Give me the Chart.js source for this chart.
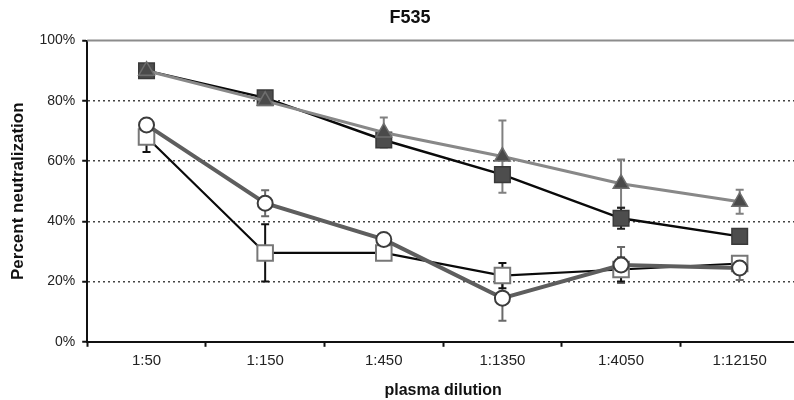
<!DOCTYPE html>
<html>
<head>
<meta charset="utf-8">
<script src="https://cdn.jsdelivr.net/npm/chart.js@4.4.1/dist/chart.umd.min.js"></script>
<style>
    html, body { margin: 0; padding: 0; background: #fff; overflow: hidden; }
    #wrap { width: 812px; height: 400px; }
</style>
</head>
<body>
<div id="wrap"><canvas id="chart"></canvas></div>
<script>
// Dilutions on the x axis
const dilutions = ['1:50', '1:150', '1:450', '1:1350', '1:4050', '1:12150'];

// Percent neutralization
const filledSquare = [90, 81, 67, 55.5, 41, 35];
const filledSquareErr = [0, 1, 1, 1, 3.5, 0.5];

const filledTriangle = [90, 80, 69.5, 61.5, 52.5, 46.5];
const filledTriangleErr = [0, 1, 5, 12, 8, 4];

const openSquare = [68, 29.5, 29.5, 22, 24, 26];
const openSquareErr = [5, 9.5, 1, 4.2, 4, 2];

const openCircle = [72, 46, 34, 14.5, 25.5, 24.5];
const openCircleErr = [1, 4.3, 1, 7.5, 6, 4];

// Y axis ticks
const yTicks = [0, 20, 40, 60, 80, 100];

const FONT = 'Liberation Sans, Arial, sans-serif';

// Draw error bars through the y scale
const errorBars = {
    id: 'errorBars',
    beforeDatasetsDraw(chart) {
        const ctx = chart.ctx;
        const yScale = chart.scales.y;
        chart.data.datasets.forEach((ds, i) => {
            if (!ds.errors) return;
            const meta = chart.getDatasetMeta(i);
            ctx.save();
            ctx.strokeStyle = ds.errorColor;
            ctx.lineWidth = 2;
            meta.data.forEach((pt, j) => {
                const e = ds.errors[j];
                if (!e) return;
                const v = ds.data[j];
                const top = yScale.getPixelForValue(v + e);
                const bottom = yScale.getPixelForValue(v - e);
                ctx.beginPath();
                ctx.moveTo(pt.x, top);
                ctx.lineTo(pt.x, bottom);
                ctx.moveTo(pt.x - 4, top);
                ctx.lineTo(pt.x + 4, top);
                ctx.moveTo(pt.x - 4, bottom);
                ctx.lineTo(pt.x + 4, bottom);
                ctx.stroke();
            });
            ctx.restore();
        });
    },
    afterDraw(chart) {
        // grey frame line along the top of the plot
        const { ctx, chartArea } = chart;
        ctx.save();
        ctx.strokeStyle = '#8c8c8c';
        ctx.lineWidth = 2;
        ctx.beginPath();
        ctx.moveTo(chartArea.left, chartArea.top);
        ctx.lineTo(chartArea.right, chartArea.top);
        ctx.stroke();
        ctx.restore();
    }
};

new Chart(document.getElementById('chart'), {
    type: 'line',
    data: {
        labels: dilutions,
        datasets: [
            {
                label: 'filled triangle',
                data: filledTriangle,
                errors: filledTriangleErr,
                errorColor: '#808080',
                borderColor: '#888',
                borderWidth: 3,
                pointStyle: 'triangle',
                pointRadius: 9,
                pointBackgroundColor: '#4a4a4a',
                pointBorderColor: '#6e6e6e',
                pointBorderWidth: 1.5,
                order: 1
            },
            {
                label: 'filled square',
                data: filledSquare,
                errors: filledSquareErr,
                errorColor: '#222',
                borderColor: '#0a0a0a',
                borderWidth: 2.5,
                pointStyle: 'rect',
                pointRadius: 11,
                pointBackgroundColor: '#4d4d4d',
                pointBorderColor: '#3a3a3a',
                pointBorderWidth: 1.5,
                order: 2
            },
            {
                label: 'open circle',
                data: openCircle,
                errors: openCircleErr,
                errorColor: '#6a6a6a',
                borderColor: '#5e5e5e',
                borderWidth: 4,
                pointStyle: 'circle',
                pointRadius: 7.5,
                pointBackgroundColor: '#fff',
                pointBorderColor: '#3c3c3c',
                pointBorderWidth: 2,
                order: 3
            },
            {
                label: 'open square',
                data: openSquare,
                errors: openSquareErr,
                errorColor: '#111',
                borderColor: '#0a0a0a',
                borderWidth: 2.2,
                pointStyle: 'rect',
                pointRadius: 11,
                pointBackgroundColor: '#fff',
                pointBorderColor: '#777',
                pointBorderWidth: 2,
                order: 4
            }
        ]
    },
    options: {
        responsive: true,
        maintainAspectRatio: false,
        animation: false,
        layout: {
            padding: { left: 8, right: 0, top: 0, bottom: 0 }
        },
        plugins: {
            legend: { display: false },
            tooltip: { enabled: false },
            title: {
                display: true,
                text: 'F535',
                color: '#111',
                font: { family: FONT, size: 18, weight: 'bold' },
                padding: { top: 7, bottom: 12 }
            }
        },
        scales: {
            x: {
                type: 'category',
                offset: true,
                grid: {
                    offset: true,
                    drawOnChartArea: false,
                    drawTicks: true,
                    tickLength: 5,
                    tickColor: '#111',
                    tickWidth: 2
                },
                border: { display: true, color: '#111', width: 2 },
                ticks: {
                    color: '#222',
                    padding: 5,
                    font: { family: FONT, size: 15 }
                },
                title: {
                    display: true,
                    text: 'plasma dilution',
                    color: '#111',
                    font: { family: FONT, size: 16, weight: 'bold' },
                    padding: { top: 6, bottom: 0 }
                }
            },
            y: {
                min: 0,
                max: 100,
                afterBuildTicks(scale) {
                    scale.ticks = yTicks.map(v => ({ value: v }));
                },
                grid: {
                    color: ctx => (ctx.tick && (ctx.tick.value === 0 || ctx.tick.value === 100)) ? 'rgba(0,0,0,0)' : '#444',
                    lineWidth: 1.5,
                    drawTicks: true,
                    tickLength: 5,
                    tickColor: '#111',
                    tickWidth: 2
                },
                border: { display: true, color: '#111', width: 2, dash: [2, 3] },
                ticks: {
                    color: '#222',
                    padding: 7,
                    font: { family: FONT, size: 14 },
                    callback: v => v + '%'
                },
                title: {
                    display: true,
                    text: 'Percent neutralization',
                    color: '#111',
                    font: { family: FONT, size: 17, weight: 'bold' },
                    padding: { top: 0, bottom: 4 }
                }
            }
        }
    },
    plugins: [errorBars]
});
</script>
</body>
</html>
